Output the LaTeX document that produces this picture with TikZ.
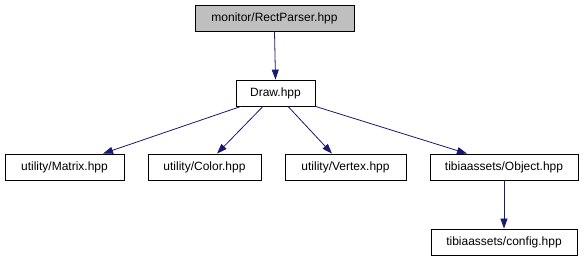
\documentclass[tikz,border=0pt]{standalone}
\usepackage{fontspec}
\setmainfont{Liberation Sans}
\usetikzlibrary{arrows.meta}
\definecolor{edgeblue}{HTML}{191970}
\begin{document}
\begin{tikzpicture}[x=1pt,y=-1pt,
  filebox/.style={draw=black,line width=0.8pt,fill=white,inner sep=0pt,
    minimum height=26pt,font=\fontsize{12}{14}\selectfont,anchor=center},
  edge/.style={draw=edgeblue,line width=0.8pt,
    -{Triangle[length=10pt,width=7pt]}}]
\useasboundingbox (0,0) rectangle (587,261);
% header file and its includes
\node[filebox,fill=black!25,minimum width=159pt] (rect) at (274.5,18) {monitor/RectParser.hpp};
\node[filebox,minimum width=79pt] (draw) at (275.5,93) {Draw.hpp};
\node[filebox,minimum width=119pt] (matrix) at (64.5,167) {utility/Matrix.hpp};
\node[filebox,minimum width=113pt] (color) at (204.5,167) {utility/Color.hpp};
\node[filebox,minimum width=121pt] (vertex) at (345.5,167) {utility/Vertex.hpp};
\node[filebox,minimum width=148pt] (object) at (504,167) {tibiaassets/Object.hpp};
\node[filebox,minimum width=146pt] (config) at (504,242) {tibiaassets/config.hpp};
% include edges
\draw[edge] (rect.south) -- (draw.north);
\draw[edge] ([xshift=-34.5pt]draw.south) -- ([xshift=38.5pt]matrix.north);
\draw[edge] ([xshift=-12.5pt]draw.south) -- ([xshift=12.5pt]color.north);
\draw[edge] ([xshift=12.5pt]draw.south) -- ([xshift=-13.5pt]vertex.north);
\draw[edge] (draw.south east) -- ([xshift=-37pt]object.north);
\draw[edge] (object.south) -- (config.north);
\end{tikzpicture}
\end{document}
